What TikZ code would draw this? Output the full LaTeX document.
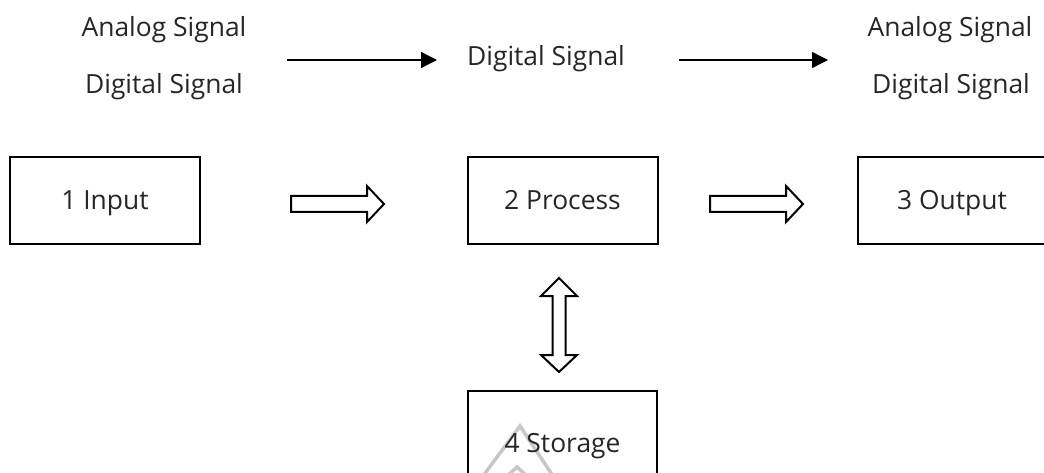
\documentclass[tikz,border=0pt]{standalone}
\usepackage{fontspec}
\setmainfont{Open Sans}
\usetikzlibrary{arrows.meta,calc}
\begin{document}
\begin{tikzpicture}[x=1pt,y=-1pt,
  txt/.style={font=\fontsize{26.4}{30}\selectfont,inner sep=0pt,text=black!85,anchor=base},
  box/.style={draw=black,line width=2pt,minimum width=190pt,minimum height=87pt,inner sep=0pt},
  sig/.style={line width=1.3pt,-{Triangle[length=16pt,width=16pt]}},
  hollow/.style={draw,line width=2pt,line join=miter,fill=white},
  wmark/.style={draw=black!22,line width=3.5pt},
  pics/hollowright/.style={code={
    \draw[hollow] (0,-8) -- (76,-8) -- (76,-18) -- (93,0) -- (76,18) -- (76,8) -- (0,8) -- cycle;}},
  pics/hollowboth/.style={code={
    \draw[hollow] (0,0) -- (18,18) -- (6.5,18) -- (6.5,77) -- (18,77) -- (0,94)
      -- (-18,77) -- (-6.5,77) -- (-6.5,18) -- (-18,18) -- cycle;}}]
\useasboundingbox (0,0) rectangle (1044,473);
\clip (0,0) rectangle (1044,473);

% signal labels
\node[txt] (inA) at (164,37) {Analog Signal};
\node[txt] (inD) at (164,94) {Digital Signal};
\node[txt] (mid) at (546,66) {Digital Signal};
\node[txt] (outA) at (950,37) {Analog Signal};
\node[txt] (outD) at (951,94) {Digital Signal};

% signal arrows
\coordinate (s1a) at (287,60);
\coordinate (s1b) at (437,60);
\coordinate (s2a) at (679,60);
\coordinate (s2b) at (828,60);
\draw[sig] (s1a) -- (s1b);
\draw[sig] (s2a) -- (s2b);

% blocks
\node[box] (input) at (105,200.5) {};
\node[box] (process) at (562.5,200.5) {};
\node[box] (output) at (953,200.5) {};
\node[txt] (inputT) at (105,210) {1 Input};
\node[txt] (processT) at (562.5,210) {2 Process};
\node[txt] (outputT) at (952,210) {3 Output};

% storage block (runs past the lower edge)
\draw[line width=2pt] (468,480) -- (468,391) -- (657,391) -- (657,480);
\draw[wmark] (483,476) -- (520,426) -- (553,476);
\draw[wmark] (507,476) -- (517,467) -- (527,476);
\node[txt] (storage) at (562.5,452) {4 Storage};

% block arrows
\pic at (291,204) {hollowright};
\pic at (710,204) {hollowright};
\pic at (559,278) {hollowboth};
\end{tikzpicture}
\end{document}
